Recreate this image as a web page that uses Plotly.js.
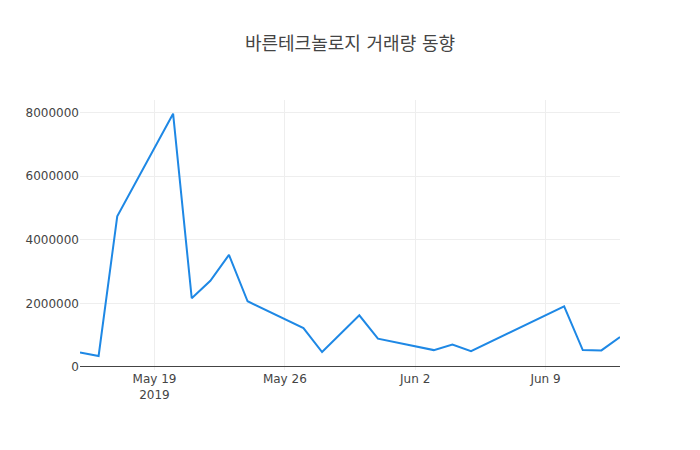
<!DOCTYPE html>
<html lang="ko">
<head>
    <meta charset="UTF-8">
    <script src="https://cdn.plot.ly/plotly-3.0.1.min.js"></script>
    <style>
        body { margin: 0; }
    </style>
</head>
<body>
    <div id="chart" style="width:700px;height:450px;"></div>
    <script>
        // trading days and daily volume
        var dates = ['2019-05-15', '2019-05-16', '2019-05-17', '2019-05-20', '2019-05-21',
            '2019-05-22', '2019-05-23', '2019-05-24', '2019-05-27', '2019-05-28',
            '2019-05-30', '2019-05-31', '2019-06-03', '2019-06-04', '2019-06-05',
            '2019-06-10', '2019-06-11', '2019-06-12', '2019-06-13']
        var volume = [455000, 346000, 4740000, 7970000, 2165000,
            2712000, 3525000, 2068000, 1225000, 470000,
            1625000, 890000, 531000, 704000, 495000,
            1906000, 531000, 522000, 945000]

        var titleText = '바른테크놀로지 거래량 동향'

        Plotly.newPlot('chart', [{
            x: dates,
            y: volume,
            type: 'scatter',
            mode: 'lines',
            line: { color: '#1e88e5', width: 2 }
        }], {
            width: 700,
            height: 450,
            title: {
                text: titleText,
                font: { family: '"DejaVu Sans", "Noto Sans CJK KR", sans-serif', size: 18, color: '#444' }
            },
            font: { family: '"DejaVu Sans", verdana, sans-serif', size: 12, color: '#444' },
            xaxis: { type: 'date' },
            yaxis: { range: [-95000, 8400000], tickformat: 'd', zeroline: true, zerolinecolor: '#444' },
            showlegend: false,
            paper_bgcolor: '#fff',
            plot_bgcolor: '#fff'
        }, { displayModeBar: false });
    </script>
</body>
</html>
